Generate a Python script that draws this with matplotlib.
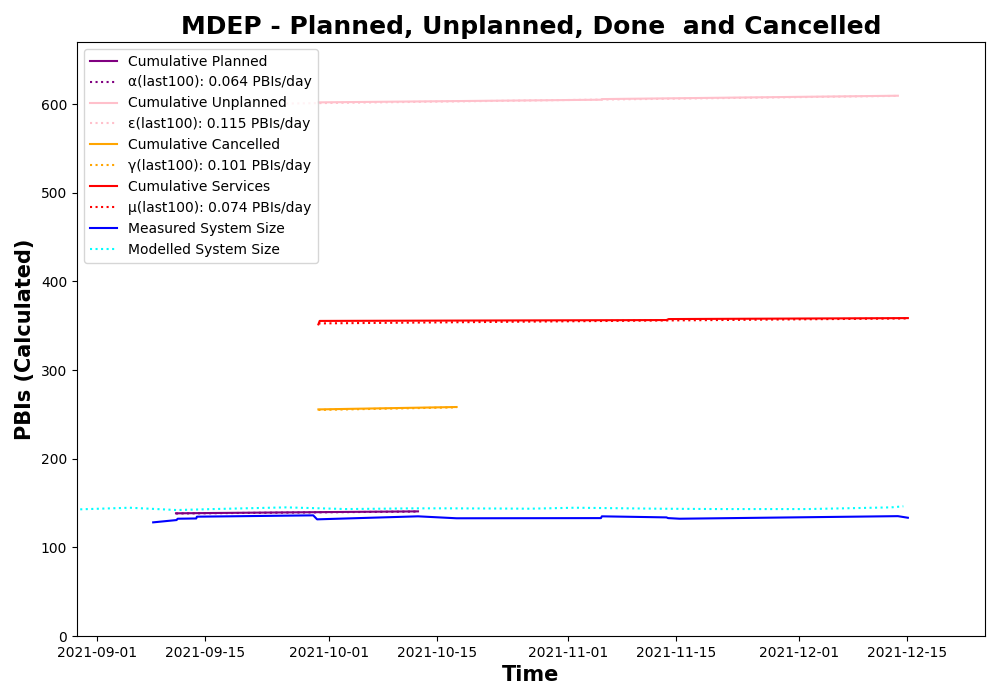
import matplotlib
matplotlib.use("Agg")
import matplotlib.pyplot as plt
import matplotlib.dates as mdates
import pandas as pd

# ---------------- data ----------------
planned_t = ["2021-09-11 05:00", "2021-09-25 00:00", "2021-10-12 14:00"]
planned_v = [138.4, 139.4, 140.6]
alpha_t = ["2021-09-11 05:00", "2021-10-12 14:00"]
alpha_v = [138.2, 140.4]

unplanned_t = ["2021-09-29 16:00", "2021-11-05 08:00", "2021-11-05 10:00", "2021-12-13 19:00"]
unplanned_v = [601.9, 604.9, 605.6, 609.4]
eps_t = ["2021-09-25 12:00", "2021-12-13 19:00"]
eps_v = [600.6, 609.2]

cancelled_t = ["2021-09-29 16:00", "2021-10-17 14:00"]
cancelled_v = [255.6, 258.3]
gamma_t = ["2021-09-29 16:00", "2021-10-17 14:00"]
gamma_v = [255.0, 257.9]

services_t = ["2021-09-29 16:00", "2021-09-29 20:00", "2021-11-13 19:00",
              "2021-11-14 02:00", "2021-12-15 02:00"]
services_v = [351.5, 355.4, 356.4, 357.5, 358.6]
mu_t = ["2021-09-29 16:00", "2021-12-15 02:00"]
mu_v = [352.6, 358.2]

measured_t = ["2021-09-08 06:00", "2021-09-11 07:00", "2021-09-11 10:00",
              "2021-09-13 20:00", "2021-09-13 22:00", "2021-09-29 00:00",
              "2021-09-29 12:00", "2021-10-12 14:00", "2021-10-17 14:00",
              "2021-11-05 07:00", "2021-11-05 10:00", "2021-11-13 19:00",
              "2021-11-14 00:00", "2021-11-15 12:00", "2021-12-13 19:00",
              "2021-12-15 02:00"]
measured_v = [128.2, 130.8, 132.3, 132.6, 134.6, 136.1, 131.6, 135.0, 132.8,
              133.0, 135.0, 133.8, 133.0, 132.3, 135.2, 133.4]

modelled_t = ["2021-08-29 19:00", "2021-09-05 05:00", "2021-09-11 07:00",
              "2021-09-16 00:00", "2021-09-25 12:00", "2021-10-03 07:00",
              "2021-10-12 00:00", "2021-10-16 07:00", "2021-10-23 05:00",
              "2021-10-27 00:00", "2021-11-01 22:00", "2021-11-12 17:00",
              "2021-11-20 12:00", "2021-12-02 02:00", "2021-12-12 22:00",
              "2021-12-14 12:00"]
modelled_v = [142.9, 144.7, 142.1, 143.2, 145.1, 143.2, 144.0, 144.0, 143.8,
              143.6, 144.7, 143.6, 143.2, 143.2, 145.1, 146.3]

title = "MDEP - Planned, Unplanned, Done  and Cancelled"
xlim_t = ["2021-08-29 09:00", "2021-12-25 02:00"]
ylim_v = [0, 670]

# ---------------- plot ----------------
def d(ts):
    return pd.to_datetime(ts)

fig = plt.figure(figsize=(10, 7), dpi=100)
ax = fig.add_axes([0.077, 0.0914, 0.908, 0.8486])

ax.plot(d(planned_t), planned_v, color="purple", lw=1.5, label="Cumulative Planned")
ax.plot(d(alpha_t), alpha_v, color="purple", lw=1.5, ls=":", label="α(last100): 0.064 PBIs/day")
ax.plot(d(unplanned_t), unplanned_v, color="pink", lw=1.5, label="Cumulative Unplanned")
ax.plot(d(eps_t), eps_v, color="pink", lw=1.5, ls=":", label="ε(last100): 0.115 PBIs/day")
ax.plot(d(cancelled_t), cancelled_v, color="orange", lw=1.5, label="Cumulative Cancelled")
ax.plot(d(gamma_t), gamma_v, color="orange", lw=1.5, ls=":", label="γ(last100): 0.101 PBIs/day")
ax.plot(d(services_t), services_v, color="red", lw=1.5, label="Cumulative Services")
ax.plot(d(mu_t), mu_v, color="red", lw=1.5, ls=":", label="μ(last100): 0.074 PBIs/day")
ax.plot(d(measured_t), measured_v, color="blue", lw=1.5, label="Measured System Size")
ax.plot(d(modelled_t), modelled_v, color="cyan", lw=1.5, ls=":", label="Modelled System Size")

ax.set_xlim(d(xlim_t))
ax.set_ylim(ylim_v)
ax.xaxis.set_major_locator(mdates.DayLocator(bymonthday=[1, 15]))
ax.xaxis.set_major_formatter(mdates.DateFormatter("%Y-%m-%d"))

ax.set_title(title, fontsize=18, fontweight="bold")
ax.set_xlabel("Time", fontsize=15, fontweight="bold")
ax.set_ylabel("PBIs (Calculated)", fontsize=15, fontweight="bold")
ax.legend(loc="upper left", fontsize=10)

fig.savefig("out.png", dpi=100)
